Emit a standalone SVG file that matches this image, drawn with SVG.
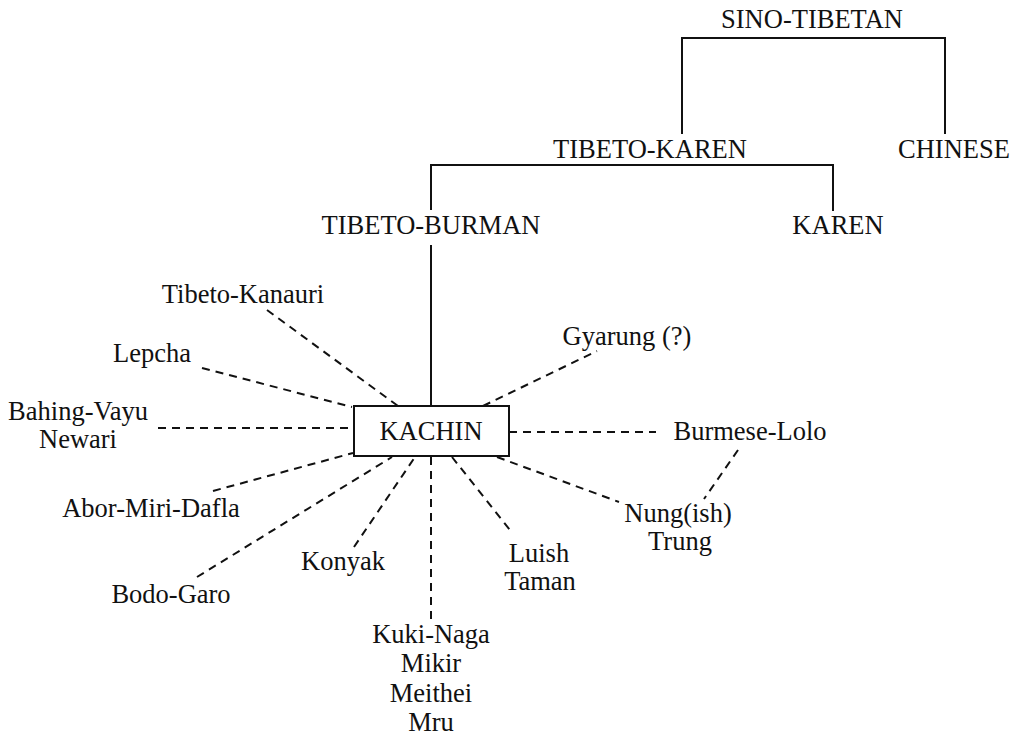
<svg xmlns="http://www.w3.org/2000/svg" width="1014" height="735" viewBox="0 0 1014 735">
<style>
text{font-family:"Liberation Serif","DejaVu Serif",serif;font-size:26.5px;fill:#111;text-anchor:middle}
.solid{stroke:#111;stroke-width:2;fill:none}
.dash{stroke:#111;stroke-width:2;fill:none;stroke-dasharray:8 6}
.box{fill:#fff;stroke:#111;stroke-width:2}
</style>
<rect width="1014" height="735" fill="#fff"/>
<g id="connectors">
<path class="solid" d="M682 134V38H945V134"/>
<path class="solid" d="M431 210V165H833V211"/>
<path class="solid" d="M431 245V406"/>
<path class="dash" d="M267 310L398 406"/>
<path class="dash" d="M202 368L352 407"/>
<path class="dash" d="M158 428H354"/>
<path class="dash" d="M213 491L353 453"/>
<path class="dash" d="M197 577L392 457"/>
<path class="dash" d="M354 547L415 457"/>
<path class="dash" d="M431 457V619"/>
<path class="dash" d="M452 457L510 530"/>
<path class="dash" d="M497 457L619 502"/>
<path class="dash" d="M509 432H656"/>
<path class="dash" d="M483 406L597 351"/>
<path class="dash" d="M738 450L704 499"/>
</g>
<g id="sino-tibetan"><text x="812" y="28">SINO-TIBETAN</text></g>
<g id="tibeto-karen"><text x="650" y="158">TIBETO-KAREN</text></g>
<g id="chinese"><text x="954" y="158">CHINESE</text></g>
<g id="tibeto-burman"><text x="431" y="234">TIBETO-BURMAN</text></g>
<g id="karen"><text x="838" y="234">KAREN</text></g>
<g id="kachin"><rect class="box" x="354" y="406" width="155" height="50"/><text x="431" y="440">KACHIN</text></g>
<g id="tibeto-kanauri"><text x="243" y="303">Tibeto-Kanauri</text></g>
<g id="lepcha"><text x="152" y="362">Lepcha</text></g>
<g id="bahing-vayu"><text x="78" y="420">Bahing-Vayu</text><text x="78" y="448">Newari</text></g>
<g id="abor-miri-dafla"><text x="151" y="517">Abor-Miri-Dafla</text></g>
<g id="bodo-garo"><text x="171" y="603">Bodo-Garo</text></g>
<g id="konyak"><text x="343" y="570">Konyak</text></g>
<g id="kuki-naga"><text x="431" y="643">Kuki-Naga</text><text x="431" y="672">Mikir</text><text x="431" y="702">Meithei</text><text x="431" y="731">Mru</text></g>
<g id="luish"><text x="539" y="562">Luish</text><text x="540" y="590">Taman</text></g>
<g id="nung"><text x="678" y="522">Nung(ish)</text><text x="680" y="550">Trung</text></g>
<g id="burmese-lolo"><text x="750" y="440">Burmese-Lolo</text></g>
<g id="gyarung"><text x="627" y="345">Gyarung (?)</text></g>
</svg>
